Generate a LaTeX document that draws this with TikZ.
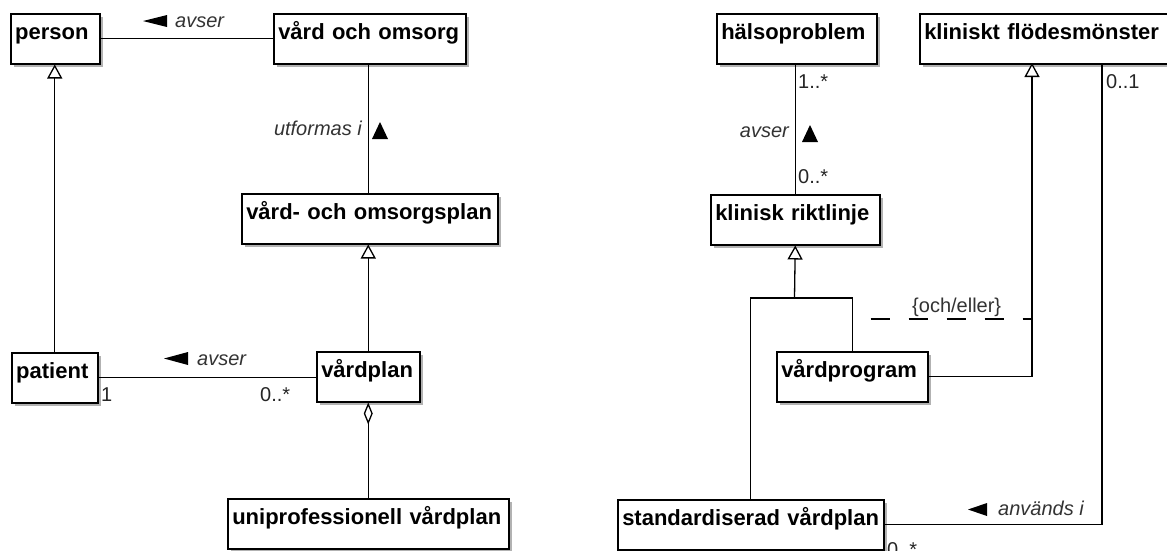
\documentclass[tikz,border=0pt]{standalone}
\usepackage{fontspec}
\setmainfont{Liberation Sans}
\usetikzlibrary{arrows.meta,shadows}
\definecolor{lbl}{HTML}{333333}
\begin{document}
\begin{tikzpicture}[x=1pt,y=-1pt,
  cls/.style={draw, line width=1.5pt, fill=white, anchor=north west,
    minimum height=50pt, inner xsep=4.5pt, inner ysep=0pt, align=left,
    text height=16pt, text depth=14pt,
    font=\bfseries\fontsize{22}{22}\selectfont,
    drop shadow={shadow xshift=3.5pt, shadow yshift=-3.5pt, opacity=0.3, fill=black}},
  conn/.style={line width=1.3pt},
  gen/.style={conn, -{Triangle[open, length=14pt, width=15pt, fill=white]}},
  agg/.style={conn, -{Diamond[open, length=22pt, width=9pt, fill=white]}},
  role/.style={inner sep=0pt, text=lbl, font=\itshape\fontsize{20}{20}\selectfont},
  mult/.style={inner sep=0pt, text=black!85, font=\fontsize{20}{20}\selectfont},
  dir/.style={fill=black}
]
\useasboundingbox (0,0) rectangle (1167,550);
\clip (0,0) rectangle (1167,550);
\fill[white] (0,0) rectangle (1167,550);

% ---------- classes ----------
\node[cls, text width=80pt]  (person)  at (10,13)  {person};
\node[cls, text width=183pt] (vard)    at (273,13) {vård och omsorg};
\node[cls, text width=247pt] (vop)     at (241,193) {vård- och omsorgsplan};
\node[cls, text width=77pt]  (patient) at (11,352) {patient};
\node[cls, text width=94pt]  (vplan)   at (316,351) {vårdplan};
\node[cls, text width=272pt] (uni)     at (227,498) {uniprofessionell vårdplan};

\node[cls, text width=151pt] (halso)   at (716,13) {hälsoproblem};
\node[cls, text width=261pt] (kfm)     at (919,13) {kliniskt flödesmönster};
\node[cls, text width=160pt] (klr)     at (710,194) {klinisk riktlinje};
\node[cls, text width=142pt] (vprog)   at (776,351) {vårdprogram};
\node[cls, text width=257pt] (std)     at (617,499) {standardiserad vårdplan};

% ---------- left connectors ----------
\draw[conn] (person.east) -- (vard.west);
\draw[conn] (vard.south -| vplan.north) -- (vop.north -| vplan.north);
\draw[gen] (vplan.north) -- (vplan.north |- vop.south);
\draw[gen] (patient.north) -- (patient.north |- person.south);
\draw[conn] (patient.east) -- (patient.east -| vplan.west);
\draw[agg] (uni.north -| vplan.south) -- (vplan.south);

% ---------- right connectors ----------
\draw[conn] (halso.south -| klr.north) -- (klr.north);
\coordinate (jn) at (794.5,298);
\draw[gen] (jn) -- (klr.south);
\draw[conn] (std.north) |- (jn) -| (vprog.north);
\coordinate (kg) at (1032,63);
\draw[gen] (vprog.east) -| (kg);
\coordinate (ka) at (1102,63);
\draw[conn] (std.east) -| (ka);
\coordinate (c1) at (851.5,319);
\coordinate (c2) at (1032,319);
\draw[conn, dash pattern=on 19pt off 19pt, dash phase=19pt] (c1) -- (c2);

% ---------- labels (left) ----------
\fill[dir] (143,21) -- (167,15) -- (167,27) -- cycle;
\node[role, anchor=base west] (l1) at (175,27) {avser};
\fill[dir] (380,122) -- (388,139) -- (372,139) -- cycle;
\node[role, anchor=base east] (l2) at (362,135) {utformas i};
\fill[dir] (164,358.5) -- (188,352) -- (188,365) -- cycle;
\node[role, anchor=base west] (l3) at (197,365) {avser};
\node[mult, anchor=base west] (m1) at (101,401) {1};
\node[mult, anchor=base west] (m2) at (260,401) {0..*};

% ---------- labels (right) ----------
\node[mult, anchor=base west] (m3) at (798,88) {1..*};
\node[mult, anchor=base west] (m4) at (798,183) {0..*};
\node[role, anchor=base east] (l4) at (789,137) {avser};
\fill[dir] (810,125) -- (818,142) -- (802,142) -- cycle;
\node[mult, anchor=base west] (m5) at (1106,88) {0..1};
\node[mult, text=lbl, anchor=base west] (l5) at (912,312) {\{och/eller\}};
\fill[dir] (968,509.5) -- (987,503) -- (987,516) -- cycle;
\node[role, anchor=base west] (l6) at (998,515) {används i};
\node[mult, anchor=base west] (m6) at (887,556) {0..*};
\end{tikzpicture}
\end{document}
